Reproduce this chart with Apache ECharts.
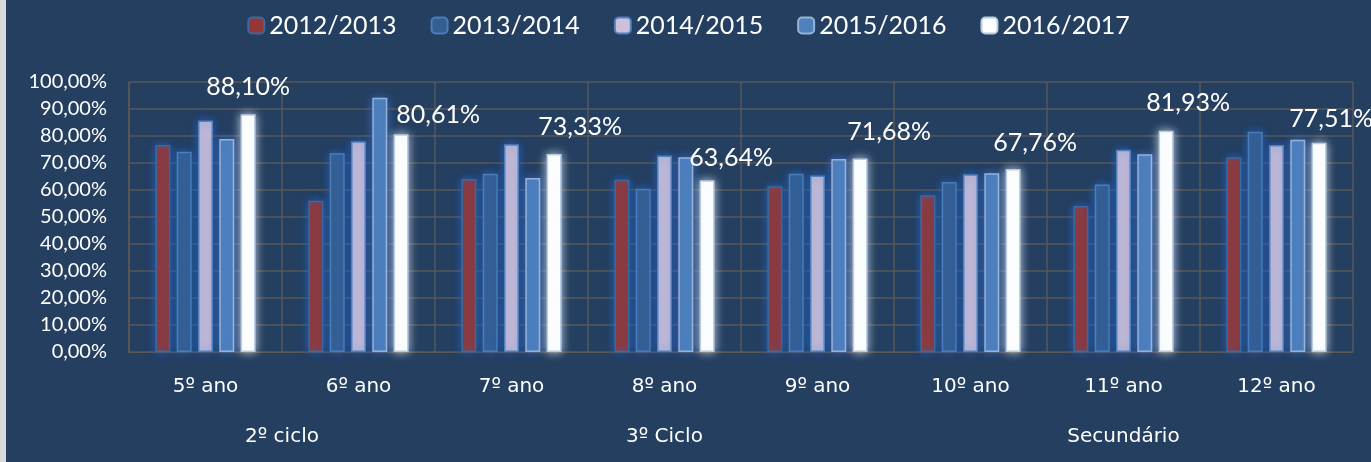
<!DOCTYPE html>
<html>
<head>
<meta charset="utf-8">
<script src="https://cdn.jsdelivr.net/npm/echarts@6/dist/echarts.min.js"></script>
<style>
    html, body { margin: 0; padding: 0; background: #d9d9d9; }
    #chart { position: absolute; left: 6px; top: 0; width: 1365px; height: 462px; background: #243f60; }
</style>
</head>
<body>
<div id="chart"></div>
<script>
// categories and groups
var anos = ['5º ano', '6º ano', '7º ano', '8º ano', '9º ano', '10º ano', '11º ano', '12º ano'];
var ciclos = ['2º ciclo', '3º Ciclo', 'Secundário'];
var cicloSpan = [2, 3, 3];

// values in %
var s2012 = [76.7, 56.0, 64.1, 63.8, 61.4, 58.1, 54.1, 72.1];
var s2013 = [74.2, 73.6, 66.0, 60.5, 66.0, 63.0, 62.0, 81.6];
var s2014 = [85.7, 78.1, 76.9, 72.8, 65.4, 65.8, 74.9, 76.7];
var s2015 = [78.9, 94.2, 64.4, 72.1, 71.5, 66.2, 73.2, 78.6];
var s2016 = [88.10, 80.61, 73.33, 63.64, 71.68, 67.76, 81.93, 77.51];

var yTicks = { min: 0, max: 100, step: 10 };

// label placement (as moved by hand in the original)
var labelOffsets = [[0, -10], [37, -2], [26, -10], [24, -5], [29, -9], [22, -9], [22, -10], [12, -6]];

var fontName = 'Lato';
var catFont = 'DejaVu Sans';

function pct(v) {
    return v.toFixed(2).replace('.', ',') + '%';
}

// centres of the group labels on a 0..8 value axis
var cicloPos = [];
var acc = 0;
for (var i = 0; i < cicloSpan.length; i++) {
    cicloPos.push(acc + cicloSpan[i] / 2);
    acc += cicloSpan[i];
}

function barSeries(name, data, fill, border, glow) {
    return {
        name: name,
        type: 'bar',
        barWidth: 15,
        barGap: '42%',
        data: data,
        itemStyle: {
            color: fill,
            borderColor: border,
            borderWidth: 1.5,
            shadowBlur: 10,
            shadowColor: glow
        }
    };
}

var chart = echarts.init(document.getElementById('chart'));

var last = barSeries('2016/2017', s2016.map(function(v, i) {
    return { value: v, label: { offset: labelOffsets[i] } };
}), '#ffffff', '#b8cce4', 'rgba(220,230,245,0.85)');
last.label = {
    show: true,
    position: 'top',
    color: '#ffffff',
    fontFamily: fontName,
    fontSize: 25,
    formatter: function(p) { return pct(p.value); }
};

chart.setOption({
    animation: false,
    textStyle: { fontFamily: fontName },
    legend: {
        top: 8,
        left: 'center',
        itemWidth: 16,
        itemHeight: 16,
        itemGap: 34,
        textStyle: { color: '#ffffff', fontSize: 25, fontFamily: fontName }
    },
    grid: { left: 123, right: 18, top: 82, bottom: 110 },
    xAxis: [{
        type: 'category',
        data: anos,
        axisLine: { lineStyle: { color: '#595959' } },
        axisTick: { show: false },
        splitLine: { show: true, lineStyle: { color: '#595959', width: 1.5 } },
        axisLabel: { color: '#ffffff', fontSize: 20, margin: 25, fontFamily: catFont }
    }, {
        type: 'value',
        min: 0,
        max: anos.length,
        position: 'bottom',
        offset: 50,
        axisLine: { show: false },
        axisTick: { show: false },
        splitLine: { show: false },
        axisLabel: {
            customValues: cicloPos,
            color: '#ffffff',
            fontSize: 20,
            margin: 25,
            fontFamily: catFont,
            formatter: function(v) {
                var k = cicloPos.indexOf(v);
                return k > -1 ? ciclos[k] : '';
            }
        }
    }],
    yAxis: {
        type: 'value',
        min: yTicks.min,
        max: yTicks.max,
        interval: yTicks.step,
        axisLine: { show: true, lineStyle: { color: '#595959', width: 1.5 } },
        axisTick: { show: false },
        splitLine: { lineStyle: { color: '#595959', width: 1.5 } },
        axisLabel: {
            color: '#ffffff',
            fontSize: 20,
            margin: 22,
            fontFamily: fontName,
            formatter: function(v) { return pct(v); }
        }
    },
    series: [
        barSeries('2012/2013', s2012, '#953735', '#3d6aa0', 'rgba(40,100,190,0.9)'),
        barSeries('2013/2014', s2013, '#365f91', '#4a7ebb', 'rgba(40,100,190,0.9)'),
        barSeries('2014/2015', s2014, '#ccc0da', '#4f81bd', 'rgba(40,100,190,0.9)'),
        barSeries('2015/2016', s2015, '#4f81bd', '#95b3d7', 'rgba(60,110,200,0.9)'),
        last
    ]
});
</script>
</body>
</html>
